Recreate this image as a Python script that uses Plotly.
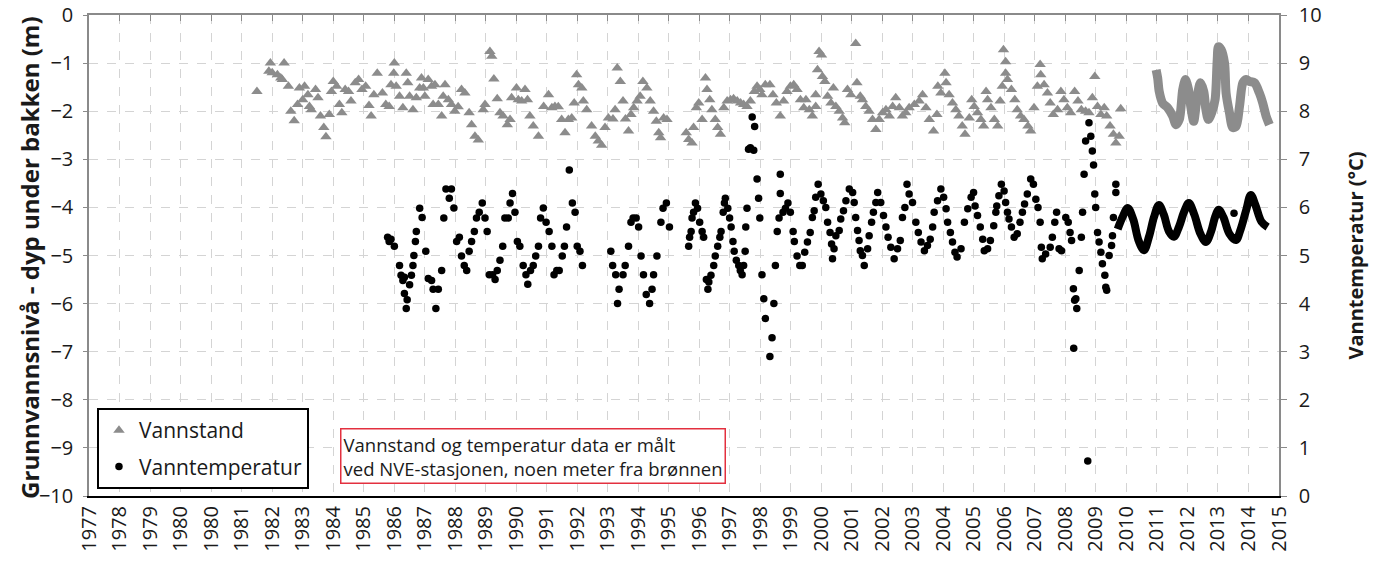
import plotly.graph_objects as go

# ---------------- data ----------------
# x values are decimal years, Vannstand in metres (below ground, negative)
vannstand_year = [
    1982.5, 1982.89, 1982.94, 1983.0, 1983.17, 1983.28, 1983.33, 1983.39, 1983.53, 1983.61,
    1983.72, 1983.83, 1983.89, 1984.0, 1984.06, 1984.17, 1984.22, 1984.28, 1984.42, 1984.5,
    1984.58, 1984.69, 1984.76, 1984.87, 1984.94, 1985.0, 1985.11, 1985.2, 1985.28, 1985.39,
    1985.5, 1985.58, 1985.72, 1985.83, 1985.94, 1986.06, 1986.17, 1986.24, 1986.33, 1986.44,
    1986.61, 1986.72, 1986.83, 1986.89, 1986.98, 1987.0, 1987.06, 1987.17, 1987.28, 1987.39,
    1987.44, 1987.5, 1987.61, 1987.72, 1987.83, 1987.89, 1987.95, 1988.0, 1988.11, 1988.22,
    1988.27, 1988.33, 1988.44, 1988.55, 1988.6, 1988.66, 1988.77, 1988.87, 1988.98, 1989.09,
    1989.2, 1989.31, 1989.45, 1989.53, 1989.64, 1989.75, 1989.91, 1989.97, 1990.13, 1990.19,
    1990.26, 1990.37, 1990.46, 1990.56, 1990.7, 1990.79, 1990.84, 1991.0, 1991.06, 1991.17,
    1991.28, 1991.36, 1991.44, 1991.55, 1991.72, 1991.89, 1992.05, 1992.16, 1992.26, 1992.37,
    1992.48, 1992.59, 1992.7, 1992.81, 1992.89, 1992.97, 1993.03, 1993.14, 1993.19, 1993.3,
    1993.46, 1993.58, 1993.68, 1993.79, 1993.9, 1994.01, 1994.16, 1994.23, 1994.3, 1994.4,
    1994.49, 1994.57, 1994.67, 1994.75, 1994.84, 1994.95, 1995.05, 1995.14, 1995.27, 1995.38,
    1995.49, 1995.58, 1995.66, 1995.72, 1995.82, 1995.93, 1996.56, 1996.64, 1996.75, 1996.8,
    1996.89, 1996.97, 1997.08, 1997.19, 1997.24, 1997.33, 1997.4, 1997.51, 1997.59, 1997.68,
    1997.79, 1997.9, 1998.01, 1998.11, 1998.23, 1998.34, 1998.44, 1998.55, 1998.66, 1998.79,
    1998.88, 1998.97, 1999.04, 1999.15, 1999.3, 1999.4, 1999.51, 1999.64, 1999.75, 1999.86,
    1999.97, 2000.08, 2000.19, 2000.3, 2000.41, 2000.48, 2000.59, 2000.69, 2000.8, 2000.8,
    2000.86, 2000.91, 2000.99, 2001.02, 2001.1, 2001.19, 2001.3, 2001.38, 2001.46, 2001.57,
    2001.68, 2001.75, 2001.84, 2001.95, 2002.11, 2002.15, 2002.26, 2002.33, 2002.44, 2002.55,
    2002.66, 2002.77, 2002.88, 2002.99, 2003.1, 2003.21, 2003.32, 2003.42, 2003.54, 2003.64,
    2003.75, 2003.86, 2004.03, 2004.19, 2004.3, 2004.41, 2004.52, 2004.66, 2004.77, 2004.8,
    2004.9, 2005.03, 2005.07, 2005.17, 2005.28, 2005.39, 2005.49, 2005.6, 2005.69, 2005.83,
    2005.91, 2005.99, 2006.1, 2006.21, 2006.3, 2006.38, 2006.43, 2006.54, 2006.65, 2006.76,
    2006.84, 2006.91, 2006.95, 2007.02, 2007.02, 2007.08, 2007.21, 2007.32, 2007.4, 2007.51,
    2007.62, 2007.75, 2007.84, 2007.95, 2008.06, 2008.15, 2008.17, 2008.28, 2008.39, 2008.48,
    2008.58, 2008.72, 2008.83, 2008.93, 2009.04, 2009.15, 2009.28, 2009.39, 2009.5, 2009.64,
    2009.75, 2009.86, 2009.94, 2010.03, 2010.14, 2010.25, 2010.33, 2010.44, 2010.55, 2010.63,
    2010.74, 2010.79,
]
vannstand_m = [
    -1.59, -1.17, -1.0, -1.2, -1.24, -1.31, -1.34, -1.0, -1.48, -2.0,
    -2.2, -1.86, -1.52, -1.76, -1.48, -1.66, -1.9, -1.97, -1.55, -1.72,
    -2.1, -2.34, -2.53, -2.07, -1.59, -1.38, -1.48, -1.86, -2.03, -1.55,
    -1.59, -1.79, -1.41, -1.34, -1.55, -1.48, -1.88, -2.1, -1.66, -1.21,
    -1.62, -1.86, -1.9, -1.45, -1.21, -1.0, -1.48, -1.69, -1.93, -1.21,
    -1.41, -1.69, -1.97, -1.72, -1.52, -1.31, -1.52, -1.69, -1.34, -1.48,
    -1.86, -1.45, -1.86, -2.1, -1.69, -1.45, -1.76, -1.86, -2.0, -1.91,
    -1.55, -1.62, -2.03, -2.28, -2.52, -2.6, -1.97, -1.86, -0.76, -0.86,
    -1.33, -1.74, -2.03, -2.1, -2.28, -2.17, -1.72, -1.52, -1.76, -1.79,
    -1.55, -1.76, -2.1, -2.31, -2.52, -1.9, -1.66, -1.93, -1.9, -1.91,
    -2.17, -2.45, -2.17, -2.14, -1.83, -1.24, -1.45, -1.52, -1.79, -1.97,
    -2.31, -2.52, -2.62, -2.71, -2.34, -2.14, -2.16, -1.97, -1.1, -1.38,
    -1.79, -2.16, -2.41, -2.07, -1.93, -1.79, -1.69, -1.38, -1.52, -1.79,
    -2.0, -2.21, -2.45, -2.55, -2.14, -2.17, -2.45, -2.59, -2.66, -2.34,
    -1.93, -1.83, -2.17, -1.31, -1.55, -1.76, -1.97, -2.17, -2.34, -2.48,
    -1.93, -1.79, -1.76, -1.74, -1.79, -1.83, -1.86, -1.9, -1.79, -1.59,
    -1.48, -1.55, -1.66, -1.45, -1.45, -1.66, -1.83, -2.1, -1.79, -1.59,
    -1.48, -1.45, -1.55, -1.76, -1.93, -1.76, -1.97, -2.1, -1.66, -1.9,
    -1.14, -0.76, -0.83, -1.28, -1.38, -1.69, -1.83, -1.52, -1.9, -2.0,
    -2.14, -2.24, -1.55, -1.66, -0.59, -1.41, -1.69, -1.76, -1.9, -2.0,
    -2.17, -2.38, -2.17, -2.03, -1.97, -2.1, -1.9, -1.72, -1.93, -2.1,
    -2.03, -1.93, -1.86, -1.79, -1.66, -1.93, -2.17, -2.41, -2.07, -1.48,
    -1.62, -1.21, -1.41, -1.66, -1.83, -1.97, -2.1, -2.31, -2.48, -2.14,
    -1.76, -1.9, -2.03, -2.17, -2.31, -1.59, -1.76, -1.93, -2.17, -2.31,
    -1.79, -1.48, -0.72, -0.97, -1.21, -1.34, -1.55, -1.76, -1.97, -2.1,
    -2.17, -2.31, -2.41, -1.93, -1.48, -1.03, -1.24, -1.45, -1.62, -1.83,
    -2.07, -1.97, -1.59, -1.76, -1.93, -2.03, -1.59, -1.79, -1.97, -2.0,
    -2.03, -1.72, -1.28, -1.9, -2.07, -1.93, -2.1, -2.31, -2.48, -2.66,
    -2.52, -1.95,
]

# continuous logger series (2012-2015), Vannstand in metres
vannstand_logger_year = [
    2011.95, 2012.0, 2012.05, 2012.16, 2012.33, 2012.49, 2012.6, 2012.71, 2012.82, 2012.91,
    2013.01, 2013.09, 2013.18, 2013.29, 2013.4, 2013.51, 2013.58, 2013.66, 2013.77, 2013.88,
    2013.95, 2013.99, 2014.08, 2014.19, 2014.24, 2014.35, 2014.46, 2014.57, 2014.68, 2014.79,
    2014.9, 2015.0, 2015.17, 2015.33, 2015.44, 2015.55, 2015.66,
]
vannstand_logger_m = [
    -1.14, -1.31, -1.59, -1.83, -1.93, -2.1, -2.28, -2.17, -1.55, -1.34,
    -1.55, -1.93, -2.21, -1.72, -1.41, -1.59, -1.97, -2.17, -2.03, -1.76,
    -0.93, -0.66, -0.72, -1.0, -1.62, -2.03, -2.34, -2.31, -1.9, -1.41,
    -1.34, -1.38, -1.41, -1.62, -1.83, -2.1, -2.28,
]

# Vanntemperatur in degrees C
temp_year = [
    1986.78, 1986.83, 1986.89, 1987.0, 1987.17, 1987.22, 1987.28, 1987.33, 1987.33, 1987.39,
    1987.42, 1987.5, 1987.56, 1987.61, 1987.64, 1987.69, 1987.72, 1987.83, 1987.91, 1988.03,
    1988.11, 1988.22, 1988.27, 1988.36, 1988.44, 1988.55, 1988.62, 1988.69, 1988.8, 1988.87,
    1988.95, 1989.04, 1989.13, 1989.2, 1989.29, 1989.37, 1989.45, 1989.53, 1989.62, 1989.69,
    1989.78, 1989.88, 1989.97, 1990.04, 1990.11, 1990.22, 1990.3, 1990.37, 1990.46, 1990.55,
    1990.62, 1990.73, 1990.79, 1990.87, 1990.95, 1991.03, 1991.11, 1991.22, 1991.31, 1991.37,
    1991.46, 1991.55, 1991.63, 1991.72, 1991.79, 1991.88, 1991.97, 1992.07, 1992.16, 1992.23,
    1992.32, 1992.4, 1992.5, 1992.57, 1992.64, 1992.73, 1992.83, 1992.92, 1992.99, 1993.08,
    1993.16, 1994.09, 1994.15, 1994.25, 1994.31, 1994.36, 1994.49, 1994.56, 1994.67, 1994.75,
    1994.82, 1994.92, 1995.0, 1995.08, 1995.16, 1995.25, 1995.36, 1995.44, 1995.49, 1995.6,
    1995.73, 1995.8, 1995.91, 1996.01, 1996.64, 1996.67, 1996.72, 1996.75, 1996.8, 1996.86,
    1996.93, 1997.0, 1997.08, 1997.13, 1997.22, 1997.27, 1997.3, 1997.37, 1997.46, 1997.51,
    1997.59, 1997.66, 1997.7, 1997.77, 1997.81, 1997.84, 1997.92, 1997.98, 1998.03, 1998.09,
    1998.13, 1998.2, 1998.28, 1998.33, 1998.39, 1998.44, 1998.49, 1998.51, 1998.55, 1998.6,
    1998.66, 1998.72, 1998.77, 1998.8, 1998.88, 1998.93, 1998.97, 1999.04, 1999.1, 1999.15,
    1999.3, 1999.37, 1999.43, 1999.48, 1999.54, 1999.6, 1999.64, 1999.64, 1999.73, 1999.81,
    1999.89, 1999.97, 2000.06, 2000.1, 2000.19, 2000.28, 2000.36, 2000.44, 2000.53, 2000.62,
    2000.69, 2000.75, 2000.8, 2000.88, 2000.97, 2001.05, 2001.13, 2001.19, 2001.27, 2001.32,
    2001.35, 2001.4, 2001.46, 2001.57, 2001.62, 2001.71, 2001.79, 2001.9, 2002.01, 2002.06,
    2002.11, 2002.17, 2002.22, 2002.26, 2002.33, 2002.39, 2002.5, 2002.55, 2002.63, 2002.69,
    2002.77, 2002.83, 2002.93, 2003.02, 2003.1, 2003.17, 2003.26, 2003.37, 2003.48, 2003.57,
    2003.64, 2003.72, 2003.79, 2003.86, 2003.97, 2004.08, 2004.16, 2004.25, 2004.36, 2004.46,
    2004.55, 2004.63, 2004.68, 2004.79, 2004.9, 2004.99, 2005.07, 2005.12, 2005.21, 2005.28,
    2005.36, 2005.43, 2005.56, 2005.67, 2005.78, 2005.89, 2005.97, 2006.02, 2006.1, 2006.19,
    2006.27, 2006.32, 2006.43, 2006.52, 2006.63, 2006.7, 2006.73, 2006.8, 2006.88, 2006.97,
    2007.02, 2007.08, 2007.13, 2007.21, 2007.3, 2007.4, 2007.49, 2007.57, 2007.64, 2007.73,
    2007.84, 2007.93, 2008.01, 2008.08, 2008.15, 2008.19, 2008.22, 2008.33, 2008.48, 2008.55,
    2008.63, 2008.69, 2008.77, 2008.85, 2008.99, 2009.07, 2009.13, 2009.18, 2009.24, 2009.25,
    2009.28, 2009.32, 2009.35, 2009.43, 2009.5, 2009.54, 2009.59, 2009.64, 2009.71, 2009.75,
    2009.81, 2009.86, 2009.9, 2009.94, 2009.97, 2010.03, 2010.08, 2010.14, 2010.19, 2010.27,
    2010.3, 2010.33, 2010.41, 2010.49, 2010.52, 2010.55, 2010.63, 2010.63, 2014.5,
]
temp_c = [
    5.38, 5.29, 5.34, 5.19, 4.79, 4.59, 4.48, 4.55, 4.21, 3.9,
    4.08, 4.39, 4.59, 4.79, 5.0, 5.29, 5.5, 5.98, 5.79, 5.09,
    4.52, 4.48, 4.3, 3.9, 4.3, 4.69, 5.78, 6.38, 6.19, 6.38,
    5.99, 5.29, 5.38, 4.99, 4.79, 4.69, 5.09, 5.29, 5.5, 5.78,
    5.9, 6.09, 5.78, 5.5, 4.6, 4.6, 4.5, 4.69, 4.9, 5.19,
    5.78, 5.78, 6.09, 6.29, 5.9, 5.29, 5.19, 4.79, 4.6, 4.4,
    4.69, 4.79, 4.99, 5.19, 5.78, 5.99, 5.69, 5.5, 5.19, 4.6,
    4.69, 4.69, 4.99, 5.19, 5.59, 6.78, 6.09, 5.9, 5.19, 5.09,
    4.79, 5.09, 4.79, 4.6, 4.0, 4.3, 4.6, 4.79, 5.19, 5.69,
    5.78, 5.78, 5.59, 4.99, 4.6, 4.19, 4.0, 4.3, 4.6, 4.99,
    5.69, 5.98, 6.09, 5.59, 5.19, 5.38, 5.5, 5.78, 5.9, 6.09,
    5.98, 5.69, 5.5, 5.38, 4.5, 4.3, 4.45, 4.59, 4.79, 4.99,
    5.19, 5.38, 5.5, 5.9, 6.09, 6.19, 5.98, 5.78, 5.59, 5.29,
    5.09, 4.9, 4.79, 4.69, 4.6, 4.79, 5.09, 5.59, 5.98, 7.21,
    7.24, 7.88, 7.19, 7.68, 6.59, 6.19, 5.78, 4.6, 4.1, 3.69,
    2.9, 3.29, 4.0, 4.79, 5.5, 5.78, 6.29, 6.69, 5.9, 5.98,
    6.09, 5.9, 5.5, 5.29, 4.99, 4.79, 4.79, 5.07, 5.28, 5.48,
    5.79, 5.93, 6.21, 6.48, 6.28, 6.14, 6.0, 5.69, 5.48, 5.24,
    4.93, 5.14, 5.41, 5.52, 5.76, 5.93, 6.14, 6.38, 6.31, 6.1,
    5.79, 5.52, 5.31, 5.1, 5.0, 4.79, 5.14, 5.41, 5.69, 5.9,
    6.1, 6.31, 6.1, 5.83, 5.59, 5.38, 5.17, 4.93, 5.14, 5.31,
    5.79, 6.0, 6.48, 6.28, 6.1, 5.69, 5.48, 5.28, 5.1, 5.21,
    5.34, 5.59, 5.9, 6.14, 6.38, 6.21, 5.97, 5.69, 5.48, 5.28,
    5.07, 4.97, 5.14, 5.69, 5.97, 6.21, 6.31, 6.03, 5.83, 5.59,
    5.34, 5.1, 5.14, 5.31, 5.62, 5.9, 6.03, 6.24, 6.48, 6.34,
    6.1, 5.9, 5.76, 5.59, 5.38, 5.45, 5.69, 5.9, 6.07, 6.28,
    6.59, 6.48, 6.17, 6.0, 5.69, 5.17, 4.93, 5.03, 5.17, 5.38,
    5.69, 5.9, 5.14, 5.1, 5.79, 5.69, 5.48, 5.31, 4.31, 3.07,
    4.07, 4.1, 3.9, 4.69, 5.38, 5.9, 6.69, 7.38, 0.73, 7.76,
    7.48, 7.17, 6.88, 6.28, 6.0, 5.48, 5.28, 5.07, 4.83, 4.59,
    4.34, 4.28, 5.0, 5.21, 5.41, 5.79, 6.31, 6.48, 5.88,
]

# continuous logger series (2010-2015), Vanntemperatur in degrees C
temp_logger_year = [
    2010.69, 2010.85, 2011.02, 2011.2, 2011.38, 2011.55, 2011.72, 2011.88, 2012.04, 2012.2,
    2012.37, 2012.53, 2012.7, 2012.86, 2013.02, 2013.2, 2013.4, 2013.58, 2013.75, 2013.88,
    2014.0, 2014.15, 2014.35, 2014.56, 2014.72, 2014.9, 2015.05, 2015.2, 2015.4, 2015.6,
]
temp_logger_c = [
    5.55, 5.8, 5.99, 5.75, 5.3, 5.11, 5.4, 5.8, 6.05, 5.85,
    5.5, 5.39, 5.6, 5.9, 6.09, 5.85, 5.45, 5.28, 5.5, 5.8,
    5.95, 5.8, 5.45, 5.32, 5.55, 5.95, 6.26, 6.05, 5.7, 5.59,
]

# x tick labels (Excel date axis, 365-day major unit)
tick_labels = [
    "1977", "1978", "1979", "1980", "1980", "1981", "1982", "1983", "1984", "1985",
    "1986", "1987", "1988", "1989", "1990", "1991", "1992", "1993", "1994", "1995",
    "1996", "1997", "1998", "1999", "2000", "2001", "2002", "2003", "2004", "2005",
    "2006", "2007", "2008", "2009", "2010", "2011", "2012", "2013", "2014", "2015",
]

# ---------------- figure ----------------
START = 1977.0
tick_vals = [START + k * 365.0 / 365.25 for k in range(len(tick_labels))]
x_range = [tick_vals[0], tick_vals[-1]]

GRAY = "#8c8c8c"
GRID = "#d4d4d4"
FONT = "Open Sans"

fig = go.Figure()

fig.add_trace(go.Scatter(
    x=vannstand_year, y=vannstand_m, mode="markers", name="Vannstand",
    marker=dict(symbol="triangle-up", size=10, color=GRAY, line=dict(width=0)),
    xaxis="x", yaxis="y", legendgroup="a",
))
fig.add_trace(go.Scatter(
    x=vannstand_logger_year, y=vannstand_logger_m, mode="lines", name="Vannstand",
    line=dict(color=GRAY, width=9, shape="spline", smoothing=0.8),
    xaxis="x2", yaxis="y", showlegend=False,
))
fig.add_trace(go.Scatter(
    x=temp_year, y=temp_c, mode="markers", name="Vanntemperatur",
    marker=dict(symbol="circle", size=7.5, color="black"),
    xaxis="x", yaxis="y2", legendgroup="b",
))
fig.add_trace(go.Scatter(
    x=temp_logger_year, y=temp_logger_c, mode="lines", name="Vanntemperatur",
    line=dict(color="black", width=8, shape="spline", smoothing=1.0),
    xaxis="x", yaxis="y2", showlegend=False,
))

fig.update_layout(
    width=1373, height=575,
    margin=dict(l=89, r=94, t=15, b=79, autoexpand=False),
    paper_bgcolor="white", plot_bgcolor="white",
    font=dict(family=FONT, size=19, color="#1a1a1a"),
    showlegend=True,
    legend=dict(
        x=0.0067, y=0.183, xanchor="left", yanchor="top",
        bordercolor="black", borderwidth=2, bgcolor="white",
        font=dict(family=FONT, size=21, color="#1a1a1a"),
        tracegroupgap=6, itemsizing="trace",
    ),
    xaxis=dict(
        range=x_range, tickvals=tick_vals, ticktext=tick_labels, tickangle=-90,
        tickfont=dict(size=20), showgrid=True, gridcolor=GRID, griddash="dash",
        gridwidth=1, zeroline=False, showline=True, linecolor="black", linewidth=2,
        ticks="", anchor="y", automargin=False,
    ),
    xaxis2=dict(
        range=x_range, tickvals=tick_vals, overlaying="x", side="top", anchor="y",
        showticklabels=False, ticks="inside", ticklen=6, tickcolor="#8a8a8a",
        showline=True, linecolor="#8a8a8a", linewidth=1.5, showgrid=False, zeroline=False,
        automargin=False,
    ),
    yaxis=dict(
        range=[-10, 0], dtick=1, tick0=0, tickfont=dict(size=20),
        showgrid=True, gridcolor=GRID, griddash="dash", zeroline=False,
        showline=True, linecolor="#8a8a8a", linewidth=1.5,
        ticks="outside", ticklen=4, tickcolor="#8a8a8a", ticklabelstandoff=6,
        automargin=False,
    ),
    yaxis2=dict(
        range=[0, 10], dtick=1, tick0=0, overlaying="y", side="right", anchor="x",
        tickfont=dict(size=20), showgrid=False, zeroline=False,
        showline=True, linecolor="#8a8a8a", linewidth=1.5,
        ticks="outside", ticklen=6, tickcolor="#8a8a8a", ticklabelstandoff=8,
        automargin=False,
    ),
)

fig.add_annotation(
    text="Grunnvannsnivå - dyp under bakken (m)", textangle=-90,
    xref="paper", yref="paper", x=-0.0496, y=0.495, xanchor="center", yanchor="middle",
    showarrow=False, font=dict(family=FONT, size=24, color="#1a1a1a", weight="bold"),
)
fig.add_annotation(
    text="Vanntemperatur (°C)", textangle=-90,
    xref="paper", yref="paper", x=1.0639, y=0.5, xanchor="center", yanchor="middle",
    showarrow=False, font=dict(family=FONT, size=20, color="#1a1a1a", weight="bold"),
)
fig.add_annotation(
    text="Vannstand og temperatur data er målt<br>ved NVE-stasjonen, noen meter fra brønnen",
    xref="paper", yref="paper", x=0.211, y=0.141, xanchor="left", yanchor="top",
    align="left", showarrow=False, bgcolor="white",
    bordercolor="#e3303f", borderwidth=1.5, borderpad=2,
    font=dict(family=FONT, size=18.5, color="#1a1a1a"),
)

fig.write_html(
    "out.html",
    config={"displayModeBar": False},
    post_script="document.body.style.margin='0';document.body.style.overflow='hidden';",
)
